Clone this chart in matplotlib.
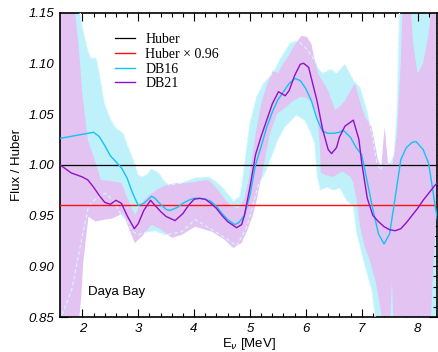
import numpy as np
import matplotlib
matplotlib.use("Agg")
import matplotlib.pyplot as plt
from matplotlib.ticker import MultipleLocator, FormatStrFormatter

# DB16 central curve
e16 = [1.6, 1.7, 1.8, 1.9, 2.0, 2.1, 2.2, 2.3, 2.4, 2.5, 2.6, 2.7, 2.8, 2.9,
       3.0, 3.1, 3.24, 3.3, 3.4, 3.5, 3.57, 3.7, 3.8, 3.9, 4.0, 4.05, 4.2,
       4.3, 4.4, 4.5, 4.6, 4.73, 4.8, 4.9, 5.0, 5.1, 5.2, 5.3, 5.4, 5.5, 5.6,
       5.7, 5.81, 5.9, 6.0, 6.1, 6.2, 6.3, 6.4, 6.5, 6.6, 6.67, 6.8, 6.9, 7.0,
       7.1, 7.2, 7.3, 7.4, 7.5, 7.6, 7.7, 7.8, 7.9, 7.97, 8.1, 8.2, 8.3, 8.4]
db16 = [1.026, 1.027, 1.028, 1.029, 1.030, 1.031, 1.032, 1.028, 1.019, 1.009,
        1.003, 0.997, 0.987, 0.972, 0.960, 0.962, 0.969, 0.967, 0.961, 0.956,
        0.955, 0.958, 0.962, 0.965, 0.967, 0.967, 0.966, 0.964, 0.959, 0.952,
        0.946, 0.941, 0.943, 0.950, 0.970, 1.000, 1.018, 1.037, 1.052, 1.064,
        1.072, 1.080, 1.085, 1.083, 1.075, 1.063, 1.045, 1.033, 1.031, 1.031,
        1.032, 1.034, 1.027, 1.017, 1.010, 0.983, 0.956, 0.932, 0.922, 0.932,
        0.968, 1.005, 1.017, 1.022, 1.023, 1.015, 1.001, 0.965, 0.930]

# DB21 central curve
e21 = [1.6, 1.7, 1.8, 1.9, 2.0, 2.1, 2.2, 2.3, 2.4, 2.5, 2.6, 2.7, 2.8, 2.93,
       3.0, 3.1, 3.22, 3.3, 3.4, 3.5, 3.66, 3.8, 3.9, 4.0, 4.1, 4.2, 4.3, 4.4,
       4.5, 4.6, 4.76, 4.85, 4.9, 5.0, 5.1, 5.2, 5.3, 5.4, 5.51, 5.63, 5.7,
       5.8, 5.9, 5.96, 6.05, 6.1, 6.2, 6.3, 6.4, 6.46, 6.55, 6.6, 6.7, 6.85,
       6.95, 7.0, 7.1, 7.2, 7.3, 7.4, 7.5, 7.6, 7.7, 7.8, 7.9, 8.0, 8.1, 8.2,
       8.3, 8.4]
db21 = [1.000, 0.996, 0.992, 0.990, 0.988, 0.985, 0.978, 0.970, 0.963, 0.961,
        0.965, 0.962, 0.950, 0.937, 0.942, 0.955, 0.965, 0.960, 0.954, 0.949,
        0.945, 0.952, 0.960, 0.966, 0.967, 0.966, 0.962, 0.957, 0.950, 0.944,
        0.938, 0.941, 0.950, 0.978, 1.010, 1.028, 1.044, 1.060, 1.072, 1.068,
        1.073, 1.088, 1.099, 1.100, 1.096, 1.085, 1.063, 1.035, 1.015, 1.011,
        1.017, 1.027, 1.038, 1.044, 1.025, 1.002, 0.967, 0.950, 0.944, 0.939,
        0.936, 0.935, 0.937, 0.943, 0.950, 0.957, 0.965, 0.972, 0.979, 0.985]

# DB16 uncertainty band edges
db16_hi_e = [1.6, 1.9, 1.96, 2.0, 2.1, 2.15, 2.25, 2.3, 2.4, 2.5, 2.6, 2.73, 2.8,
             2.91, 3.0, 3.06, 3.15, 3.24, 3.36, 3.45, 3.54, 3.78, 4.02, 4.26,
             4.4, 4.5, 4.62, 4.71, 4.82, 4.88, 4.95, 5.0, 5.12, 5.24, 5.42,
             5.55, 5.72, 5.86, 6.0, 6.16, 6.22, 6.3, 6.45, 6.55, 6.7, 6.85,
             6.97, 7.09, 7.18, 7.27, 7.33, 7.4, 7.5, 7.58, 7.63, 7.68, 8.35]
db16_hi = [1.25, 1.16, 1.15, 1.135, 1.112, 1.105, 1.105, 1.09, 1.06, 1.045,
           1.036, 1.031, 1.02, 1.005, 0.99, 0.988, 0.990, 0.996, 0.992, 0.985,
           0.980, 0.982, 0.987, 0.988, 0.983, 0.978, 0.970, 0.964, 0.969, 0.99,
           1.02, 1.041, 1.067, 1.08, 1.091, 1.105, 1.12, 1.122, 1.115, 1.103,
           1.095, 1.09, 1.094, 1.09, 1.099, 1.083, 1.076, 1.054, 1.031, 1.002,
           0.995, 1.0, 1.0, 1.01, 1.05, 1.16, 1.25]
db16_lo_e = [1.6, 1.63, 1.81, 2.0, 2.11, 2.25, 2.41, 2.55, 2.7, 2.8, 2.91, 3.0,
             3.09, 3.3, 3.48, 3.78, 4.02, 4.2, 4.38, 4.61, 4.76, 4.85, 4.95,
             5.03, 5.15, 5.27, 5.4, 5.5, 5.62, 5.83, 5.98, 6.1, 6.16, 6.2, 6.26,
             6.38, 6.49, 6.61, 6.73, 6.85, 6.91, 7.0, 7.09, 7.18, 7.24, 7.3,
             8.35]
db16_lo = [0.84, 0.851, 0.877, 0.93, 0.959, 0.967, 0.972, 0.965, 0.95, 0.945,
           0.934, 0.931, 0.933, 0.935, 0.931, 0.934, 0.946, 0.94, 0.934, 0.926,
           0.92, 0.929, 0.94, 0.956, 0.98, 0.992, 1.01, 1.025, 1.037, 1.049,
           1.044, 1.03, 1.021, 0.99, 0.975, 0.978, 0.975, 0.977, 0.965, 0.959,
           0.933, 0.913, 0.894, 0.877, 0.851, 0.82, 0.80]

# DB21 uncertainty band edges
db21_hi_e = [1.6, 1.87, 1.93, 2.0, 2.1, 2.17, 2.25, 2.33, 2.5, 2.7, 2.8, 2.9,
             2.95, 3.0, 3.1, 3.2, 3.35, 3.5, 3.7, 3.9, 4.1, 4.26, 4.43, 4.55,
             4.67, 4.79, 4.9, 5.0, 5.1, 5.2, 5.3, 5.41, 5.5, 5.6, 5.71, 5.8,
             5.92, 6.02, 6.1, 6.16, 6.22, 6.4, 6.52, 6.6, 6.7, 6.8, 6.88, 6.97,
             7.06, 7.18, 7.29, 7.35, 7.41, 7.47, 7.55, 7.63, 7.7, 7.74, 7.86,
             7.92, 8.0, 8.1, 8.2, 8.28, 8.35]
db21_hi = [1.25, 1.15, 1.119, 1.07, 1.024, 1.013, 1.000, 0.985, 0.984, 0.982,
           0.968, 0.955, 0.951, 0.957, 0.965, 0.970, 0.976, 0.980, 0.982, 0.982,
           0.984, 0.985, 0.975, 0.966, 0.959, 0.957, 0.966, 0.992, 1.030, 1.060,
           1.078, 1.093, 1.090, 1.100, 1.109, 1.118, 1.127, 1.126, 1.119, 1.103,
           1.090, 1.073, 1.054, 1.057, 1.063, 1.073, 1.080, 1.062, 1.047, 1.037,
           1.005, 0.998, 1.037, 1.002, 1.000, 1.03, 1.10, 1.17, 1.17, 1.12,
           1.09, 1.10, 1.13, 1.17, 1.20]
db21_lo_e = [1.6, 1.93, 1.98, 2.02, 2.11, 2.23, 2.4, 2.53, 2.73, 2.85, 2.94,
             3.06, 3.24, 3.42, 3.6, 3.78, 4.02, 4.32, 4.55, 4.7, 4.85, 4.95,
             5.05, 5.12, 5.24, 5.36, 5.48, 5.6, 5.8, 5.9, 6.0, 6.1, 6.2, 6.25,
             6.27, 6.35, 6.49, 6.6, 6.67, 6.8, 6.85, 6.91, 6.97, 7.05, 7.15,
             7.25, 7.3, 7.36, 7.4, 7.5, 7.54, 7.58, 8.2, 8.28, 8.35]
db21_lo = [0.80, 0.84, 0.87, 0.906, 0.949, 0.944, 0.946, 0.947, 0.952, 0.935,
           0.923, 0.929, 0.941, 0.936, 0.928, 0.931, 0.939, 0.934, 0.926, 0.918,
           0.923, 0.935, 0.95, 0.965, 0.998, 1.031, 1.050, 1.055, 1.064, 1.067,
           1.066, 1.062, 1.05, 1.02, 0.992, 0.99, 0.988, 0.992, 0.993, 0.988,
           0.982, 0.965, 0.94, 0.92, 0.905, 0.885, 0.87, 0.85, 0.83, 0.83,
           0.887, 0.83, 0.80, 0.90, 0.96]

huber = 1.0
huber_scale = 0.96

plt.rcParams["font.family"] = ["Liberation Sans", "DejaVu Sans"]

fig = plt.figure(figsize=(4.38, 3.52), dpi=100)
ax = fig.add_axes([0.137, 0.0994, 0.861, 0.865])

cyan_band = "#bff1fb"
pink_band = "#e2c3f2"


def band_polygon(xh, yh, xl, yl):
    return list(xh) + list(xl)[::-1], list(yh) + list(yl)[::-1]


px, py = band_polygon(db16_hi_e, db16_hi, db16_lo_e, db16_lo)
ax.fill(px, py, color=cyan_band, lw=0, zorder=1)
px, py = band_polygon(db21_hi_e, db21_hi, db21_lo_e, db21_lo)
ax.fill(px, py, color=pink_band, lw=0, zorder=2)

# faint dashed outline of the DB16 band shows through the DB21 band
ax.plot(db16_hi_e, db16_hi, color="#d4f6fd", lw=0.9, ls=(0, (3, 2)), zorder=3)
ax.plot(db16_lo_e, db16_lo, color="#d4f6fd", lw=0.9, ls=(0, (3, 2)), zorder=3)

ax.axhline(huber, color="black", lw=0.9, zorder=4, label="Huber")
ax.axhline(huber_scale, color="#ff1010", lw=1.0, zorder=4,
           label="Huber \u00d7 0.96")
ax.plot(e16, db16, color="#10c4f4", lw=1.0, zorder=5, label="DB16")
ax.plot(e21, db21, color="#9010c8", lw=1.0, zorder=6, label="DB21")

ax.set_xlim(1.6, 8.35)
ax.set_ylim(0.85, 1.15)

ax.xaxis.set_major_locator(MultipleLocator(1))
ax.xaxis.set_minor_locator(MultipleLocator(0.2))
ax.yaxis.set_major_locator(MultipleLocator(0.05))
ax.yaxis.set_minor_locator(MultipleLocator(0.01))
ax.yaxis.set_major_formatter(FormatStrFormatter("%.2f"))
ax.tick_params(which="both", direction="in", top=True, right=True,
               width=0.8, colors="black")
ax.tick_params(which="major", length=5.5, labelsize=9.5, pad=4)
ax.tick_params(which="minor", length=3)
for lab in ax.get_xticklabels() + ax.get_yticklabels():
    lab.set_fontstyle("italic")
for s in ax.spines.values():
    s.set_linewidth(1.2)

ax.set_xlabel(r"E$_\nu$ [MeV]", fontsize=9.5, labelpad=1)
ax.set_ylabel("Flux / Huber", fontsize=9.5, labelpad=4)

ax.text(2.1, 0.875, "Daya Bay", fontsize=9.5, ha="left", va="center",
        zorder=7)

leg = ax.legend(loc="upper left", bbox_to_anchor=(0.145, 0.932),
                frameon=False, borderaxespad=0, borderpad=0,
                handlelength=1.45, handletextpad=0.75, labelspacing=0.12,
                prop={"family": "Liberation Serif", "size": 10})
leg.set_zorder(8)

fig.savefig("out.png", dpi=100)
